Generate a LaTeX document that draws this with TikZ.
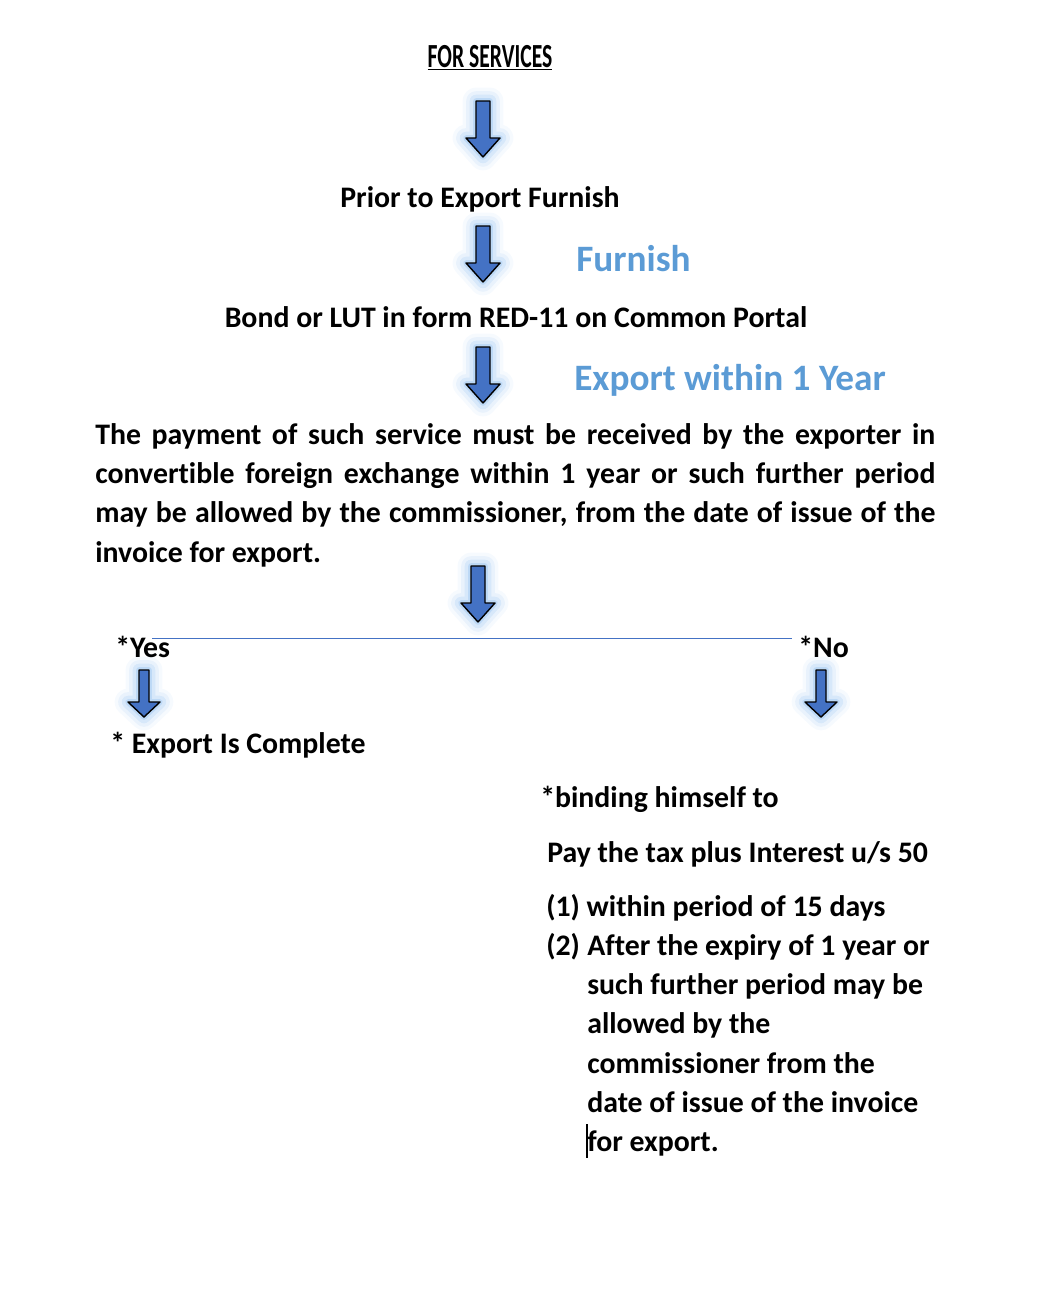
\documentclass[tikz,border=0pt]{standalone}
\usepackage{fontspec}
\setmainfont{Carlito}[Ligatures=NoCommon]
\newfontfamily\titlefont[FakeStretch=0.64]{Carlito}
\usetikzlibrary{positioning}
\definecolor{arrowblue}{HTML}{4472C4}
\definecolor{headblue}{HTML}{5B9BD5}
\definecolor{glowblue}{HTML}{8DBDF0}

\begin{document}
\begin{tikzpicture}[
  x=0.025cm, y=-0.025cm,
  glow/.style={line join=round,
    preaction={draw=glowblue, line width=19pt, draw opacity=0.08, line join=round},
    preaction={draw=glowblue, line width=14pt, draw opacity=0.12, line join=round},
    preaction={draw=glowblue, line width=9pt, draw opacity=0.2, line join=round},
    preaction={draw=glowblue, line width=4pt, draw opacity=0.35, line join=round}},
  block/.style={glow, fill=arrowblue, draw=black, line width=1pt},
  bigarrow/.pic={
    \path[block] (-7,0) -- (7,0) -- (7,37) -- (17,37) -- (0,56)
      -- (-17,37) -- (-7,37) -- cycle;},
  smallarrow/.pic={
    \path[block] (-5,0) -- (5,0) -- (5,32) -- (16,32) -- (0,47)
      -- (-16,32) -- (-5,32) -- cycle;},
  txt/.style={inner sep=0pt, font=\fontsize{21.2}{28}\selectfont\bfseries},
  head/.style={inner sep=0pt, text=headblue, font=\fontsize{26.5}{32}\selectfont\bfseries},
  split/.style={draw=arrowblue, line width=0.7pt}
]
\useasboundingbox (0,0) rectangle (1059,1295);

\node[inner sep=0pt, anchor=base, font=\fontsize{24}{28}\selectfont\titlefont\bfseries] (title) at (490,67) {\underline{FOR SERVICES}};
\pic (arrowa) at (483,101) {bigarrow};

\node[txt, anchor=base] (prior) at (480,207) {Prior to Export Furnish};
\pic (arrowb) at (483,226) {bigarrow};
\node[head, anchor=base west] (furnish) at (576,271) {Furnish};

\node[txt, anchor=base] (bond) at (516,327) {Bond or LUT in form RED-11 on Common Portal};
\pic (arrowc) at (483,347) {bigarrow};
\node[head, anchor=base west] (within) at (574,390) {Export within 1 Year};

\node[txt, anchor=base west, text width=21cm, align=justify] (payment) at (95,444)
  {\hyphenpenalty=10000 The payment of such service must be received by the exporter in\linebreak convertible foreign exchange within 1 year or such further period\linebreak may be allowed by the commissioner, from the date of issue of the\linebreak invoice for export.};
\pic (arrowd) at (478,566) {bigarrow};

% yes / no split
\coordinate (splitl) at (152,638);
\coordinate (splitr) at (792,638);
\draw[split] (splitl) -- (splitr);
\node[txt, anchor=base west] (yes) at (115,657) {*Yes};
\node[txt, anchor=base west] (no) at (798,657) {*No};
\pic (arrowyes) at (144,670) {smallarrow};
\pic (arrowno) at (821,670) {smallarrow};

\node[txt, anchor=base west] (complete) at (110,753) {* Export Is Complete};

\node[txt, anchor=base west] (binding) at (540,807) {*binding himself to};
\node[txt, anchor=base west] (paytax) at (547,862) {Pay the tax plus Interest u/s 50};
\node[txt, anchor=base west] (itemone) at (546,916) {(1) within period of 15 days};
\node[txt, anchor=base west] (itemtwo) at (546,955) {(2)};
\node[txt, anchor=base west, text width=9.5cm, align=flush left] (itemtwotext) at (587,955)
  {After the expiry of 1 year or\\ such further period may be\\ allowed by the\\ commissioner from the\\ date of issue of the invoice\\ for export.};
\draw[line width=0.8pt] (587,1124) -- (587,1158);
\end{tikzpicture}
\end{document}
